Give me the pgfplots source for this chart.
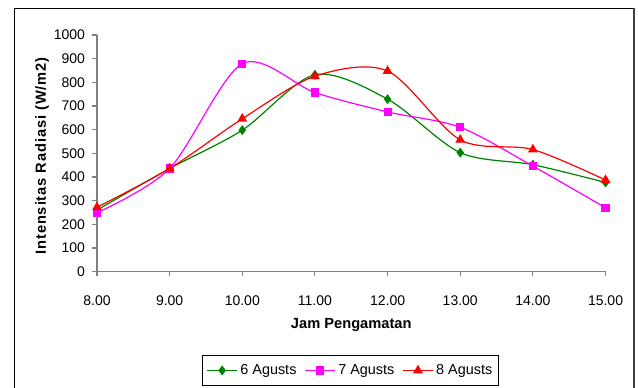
\documentclass[border=0pt]{standalone}
\usepackage{fontspec}
\setmainfont{Liberation Sans}
\newfontfamily\ylabfont[LetterSpace=6]{Liberation Sans}
\usepackage{pgfplots}
\pgfplotsset{compat=1.18}

\definecolor{sgreen}{HTML}{008000}
\definecolor{smag}{HTML}{FF00FF}
\definecolor{sred}{HTML}{FF0000}

\begin{document}
\begin{tikzpicture}
% page frame (1px = 0.75pt)
\useasboundingbox (0,0) rectangle (478.5pt,290.25pt);
\draw[black, line width=0.75pt] (10.5pt,-2pt) -- (10.5pt,284.25pt) -- (475.5pt,284.25pt);
\draw[black!75, line width=1.6pt] (475.5pt,284.25pt) -- (475.5pt,-2pt);

\begin{axis}[
  at={(72.75pt,86.5pt)}, anchor=south west,
  scale only axis, width=381.4pt, height=177.5pt,
  xmin=8, xmax=15, ymin=0, ymax=1000,
  xtick={8,9,...,15}, ytick={0,100,...,1000},
  axis lines*=left,
  axis line style={-, draw=black!50, line width=0.8pt},
  tick style={draw=black!50, line width=0.8pt},
  tick align=outside, major tick length=3.5pt,
  /pgf/number format/assume math mode=true,
  /pgf/number format/1000 sep={},
  xticklabel={\pgfmathprintnumber[fixed,fixed zerofill,precision=2]{\tick}},
  tick label style={font=\fontsize{10.5}{12}\selectfont},
  xticklabel style={yshift=-11pt},
  yticklabel style={xshift=-2pt},
  xlabel={\textbf{Jam Pengamatan}},
  ylabel={\ylabfont\bfseries Intensitas Radiasi (W/m2)},
  label style={font=\fontsize{11}{13}\selectfont},
  xlabel style={at={(axis description cs:0.5,-0.225)}, anchor=center},
  ylabel style={at={(axis description cs:-0.108,0.489)}, anchor=center},
  legend columns=3,
  legend style={at={(axis description cs:0.499,-0.353)}, anchor=north,
    draw=black, line width=0.8pt, font=\fontsize{10.8}{12}\selectfont,
    inner xsep=3pt, inner ysep=4.5pt,
    /tikz/every even column/.append style={column sep=4pt}},
  legend image code/.code={\draw[mark repeat=2,mark phase=2] plot coordinates {(0pt,0pt) (11.25pt,0pt) (22.5pt,0pt)};},
  every axis plot/.append style={line width=0.9pt, smooth},
]
\addplot[sgreen, mark=diamond*, mark size=3pt, mark options={fill=sgreen}] coordinates {
  (8,260) (9,436) (10,598) (11,832) (12,729) (13,503) (14,452) (15,377)};
\addlegendentry{6 Agusts}
\addplot[smag, mark=square*, mark size=2.6pt, mark options={fill=smag}] coordinates {
  (8,249) (9,436) (10,879) (11,757) (12,675) (13,610) (14,446) (15,270)};
\addlegendentry{7 Agusts}
\addplot[sred, mark=triangle*, mark size=3.4pt, mark options={fill=sred}] coordinates {
  (8,272) (9,436) (10,646) (11,826) (12,848) (13,557) (14,516) (15,387)};
\addlegendentry{8 Agusts}
\end{axis}
\end{tikzpicture}
\end{document}
